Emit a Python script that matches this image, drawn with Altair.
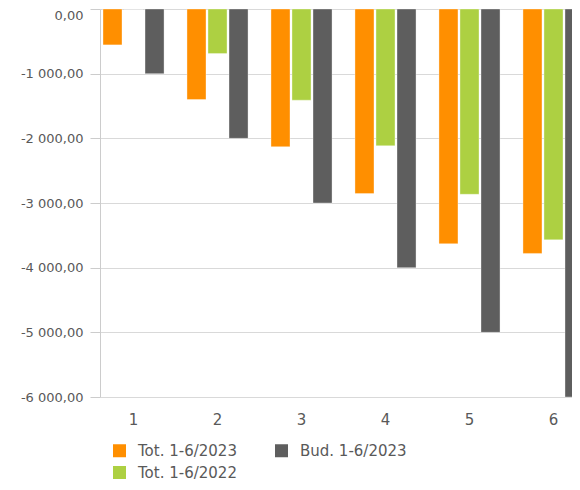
import altair as alt
import pandas as pd

months = [1, 2, 3, 4, 5, 6]
series_names = ["Tot. 1-6/2023", "Tot. 1-6/2022", "Bud. 1-6/2023"]
tot_2023 = [-555, -1400, -2130, -2855, -3630, -3780]
tot_2022 = [0, -690, -1410, -2115, -2865, -3570]
bud_2023 = [-1000, -2000, -3000, -4000, -5000, -6000]
y_ticks = [0, -1000, -2000, -3000, -4000, -5000, -6000]

series_colors = ["#ff8f00", "#add042", "#5e5e5e"]

rows = []
for name, vals in zip(series_names, [tot_2023, tot_2022, bud_2023]):
    for m, v in zip(months, vals):
        rows.append({"month": m, "series": name, "value": v})
df = pd.DataFrame(rows)

FONT = "DejaVu Sans"
TXT = "#595959"

chart = alt.Chart(df).mark_bar(
    clip=True, stroke="white", strokeWidth=1, strokeOpacity=0.35
).encode(
    x=alt.X(
        "month:O",
        scale=alt.Scale(paddingInner=0.238, paddingOuter=0.018),
        axis=alt.Axis(
            title=None, labelAngle=0, ticks=False, tickSize=0, domain=False,
            labelFont=FONT, labelFontSize=15, labelColor=TXT, labelPadding=15,
        ),
    ),
    xOffset=alt.XOffset(
        "series:N", sort=series_names,
        scale=alt.Scale(paddingInner=0.095, paddingOuter=0.07),
    ),
    y=alt.Y(
        "value:Q",
        scale=alt.Scale(domain=[-6000, 0], nice=False, zero=True),
        axis=alt.Axis(
            title=None, values=y_ticks, tickSize=10, labelPadding=7,
            tickColor="#cccccc", domainColor="#cccccc", gridColor="#d9d9d9",
            labelFont=FONT, labelFontSize=13, labelColor=TXT,
            labelExpr="(datum.value < 0 ? '-' : '') + replace(replace(format(abs(datum.value), ',.2f'), ',', ' '), '.', ',')",
            labelBaseline={"condition": {"test": "datum.value == 0", "value": "top"}, "value": "middle"},
        ),
    ),
    color=alt.Color(
        "series:N",
        scale=alt.Scale(domain=series_names, range=series_colors),
        legend=alt.Legend(
            title=None, orient="none", legendX=12, legendY=434, columns=2,
            symbolType="square", symbolSize=169, symbolStrokeWidth=0,
            labelFont=FONT, labelFontSize=15, labelColor=TXT, labelOffset=11,
            columnPadding=37, rowPadding=6, padding=0,
        ),
    ),
).properties(
    width=487,
    height=388,
    autosize=alt.AutoSizeParams(type="none"),
    padding={"left": 92, "top": 1, "right": -15, "bottom": 83},
).configure_view(stroke=None)

chart.save("out.html", embed_options={"renderer": "svg", "actions": False})
